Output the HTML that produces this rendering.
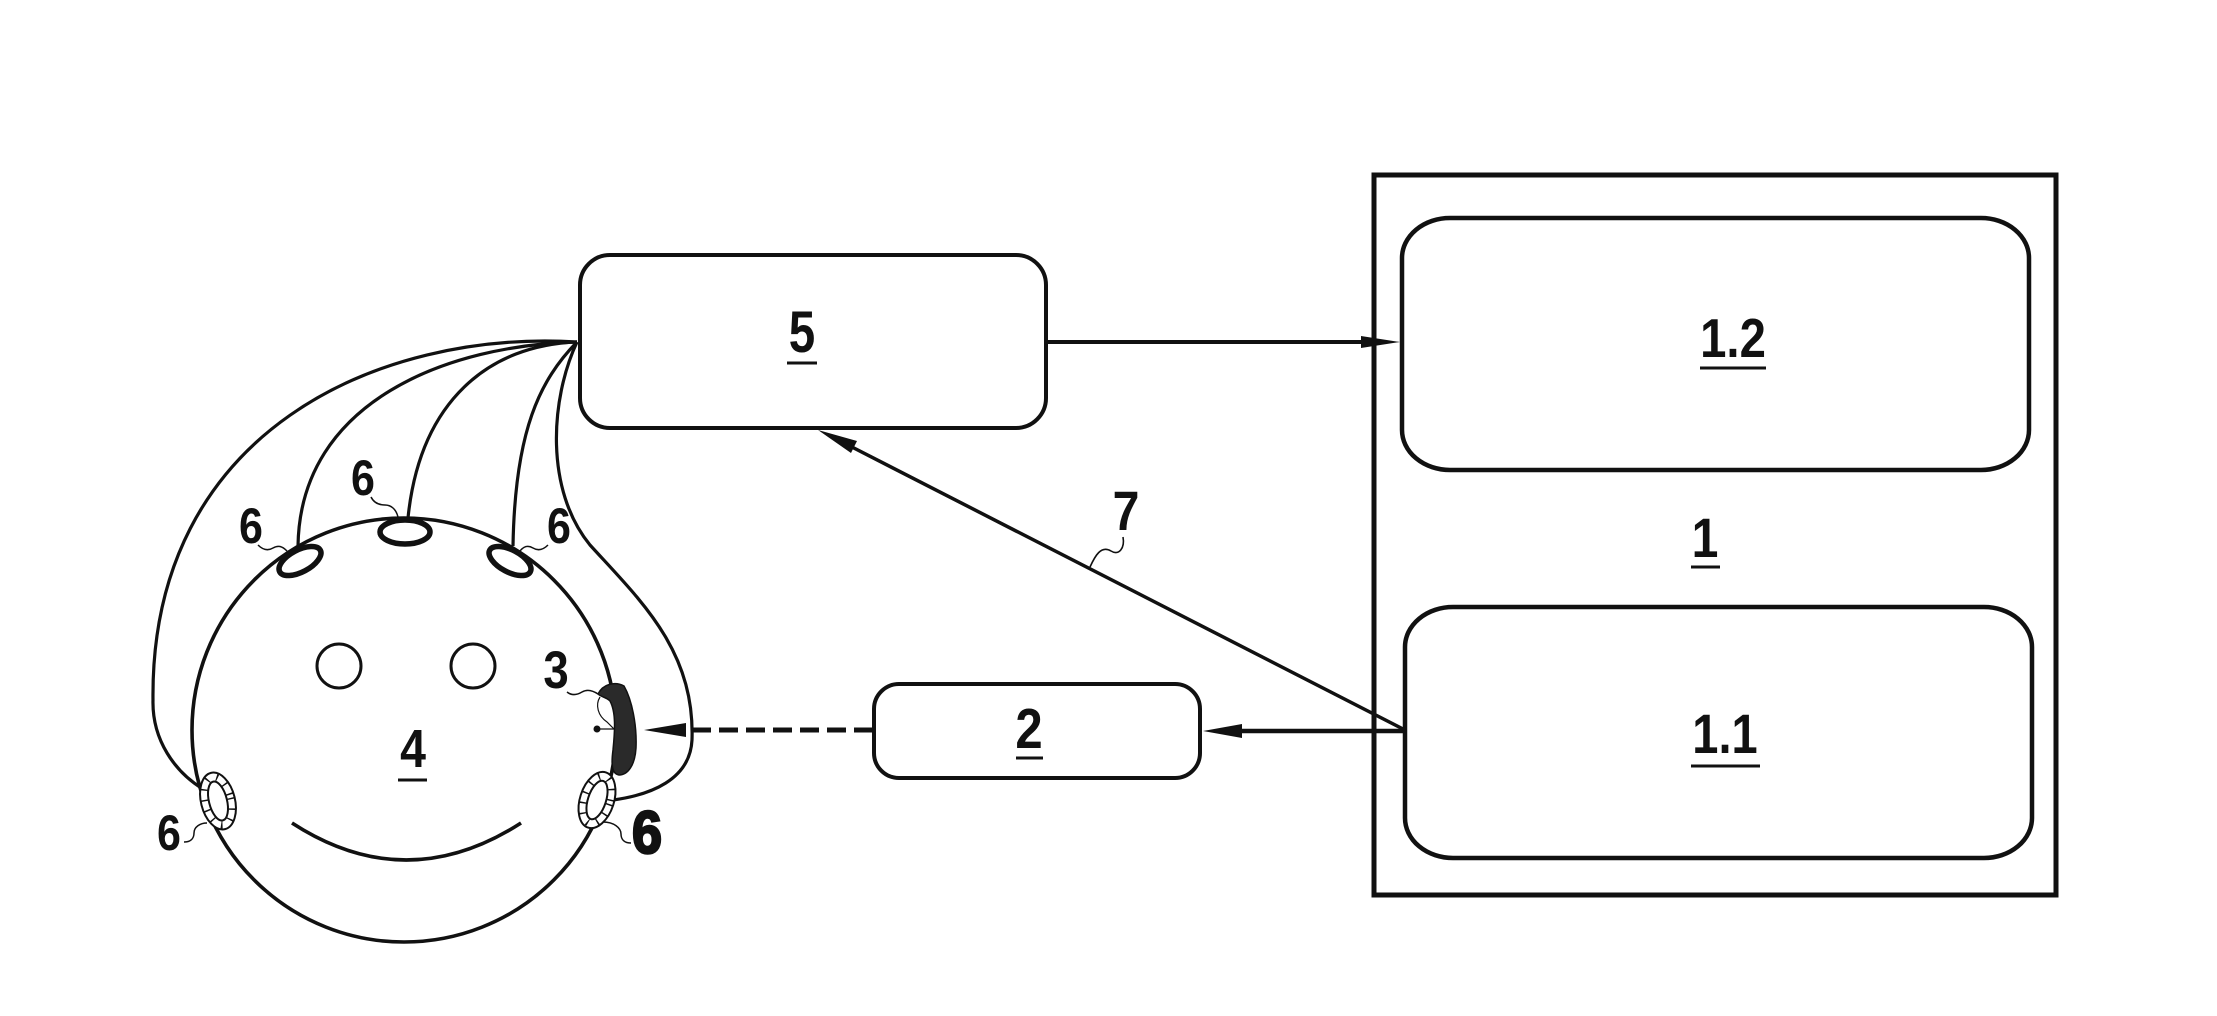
<!DOCTYPE html>
<html>
<head>
<meta charset="utf-8">
<style>
html,body{margin:0;padding:0;background:#fff;}
svg{display:block;}
text{font-family:"Liberation Sans",Arial,sans-serif;font-weight:bold;fill:#111;}
</style>
</head>
<body>
<svg width="2217" height="1016" viewBox="0 0 2217 1016" xmlns="http://www.w3.org/2000/svg">
<rect x="0" y="0" width="2217" height="1016" fill="#fff"/>

<!-- Box 1 -->
<rect x="1374" y="175" width="682" height="720" fill="none" stroke="#111" stroke-width="5"/>
<rect x="1402" y="218" width="627" height="252" rx="48" ry="40" fill="none" stroke="#111" stroke-width="4.5"/>
<rect x="1405" y="607" width="627" height="251" rx="48" ry="40" fill="none" stroke="#111" stroke-width="4.5"/>

<!-- Box 5 -->
<rect x="580" y="255" width="466" height="173" rx="30" ry="30" fill="none" stroke="#111" stroke-width="4"/>
<!-- Box 2 -->
<rect x="874" y="684" width="326" height="94" rx="25" ry="25" fill="none" stroke="#111" stroke-width="4"/>

<!-- Arrow 5 -> 1.2 -->
<line x1="1046" y1="342" x2="1365" y2="342" stroke="#111" stroke-width="4"/>
<polygon points="1400,342 1361,336 1361,348" fill="#111"/>

<!-- Arrow 1.1 -> 2 -->
<line x1="1405" y1="731" x2="1238" y2="731" stroke="#111" stroke-width="4.5"/>
<polygon points="1203,731 1242,724 1242,738" fill="#111"/>

<!-- Line 7 -->
<line x1="1405" y1="730" x2="848" y2="445" stroke="#111" stroke-width="3.5"/>
<polygon points="818,430 857,441 851,453" fill="#111"/>
<path d="M1123,537 C1125,548 1119,556 1111,551 C1101,545 1095,556 1090,567" fill="none" stroke="#111" stroke-width="1.6"/>

<!-- Dashed arrow 2 -> 3 -->
<line x1="873" y1="730" x2="684" y2="730" stroke="#111" stroke-width="5" stroke-dasharray="19 8"/>
<polygon points="644,730 686,723 686,737" fill="#111"/>

<!-- Wires -->
<g fill="none" stroke="#111" stroke-width="3.2">
<path d="M577,342 C380,330 150,430 153,700 C152,740 175,772 203,789"/>
<path d="M577,342 C450,345 300,400 298,546"/>
<path d="M577,342 C490,345 420,400 408,518"/>
<path d="M577,342 C540,380 515,430 513,546"/>
<path d="M577,342 C550,400 545,490 590,545 C640,600 695,650 692,740 C690,780 650,795 613,800"/>
</g>

<!-- Head -->
<circle cx="404" cy="730" r="212" fill="none" stroke="#111" stroke-width="3.6"/>
<circle cx="339" cy="666" r="22" fill="none" stroke="#111" stroke-width="3"/>
<circle cx="473" cy="666" r="22" fill="none" stroke="#111" stroke-width="3"/>
<path d="M292,823 Q406,897 521,823" fill="none" stroke="#111" stroke-width="3.6"/>

<!-- Top electrodes -->
<ellipse cx="300" cy="561" rx="23" ry="11" transform="rotate(-28 300 561)" fill="#fff" stroke="#111" stroke-width="5.5"/>
<ellipse cx="405" cy="532" rx="25" ry="12" fill="#fff" stroke="#111" stroke-width="5.5"/>
<ellipse cx="510" cy="561" rx="23" ry="11" transform="rotate(28 510 561)" fill="#fff" stroke="#111" stroke-width="5.5"/>

<!-- Ear electrodes -->
<g transform="rotate(-14 218 801)">
<ellipse cx="218" cy="801" rx="17" ry="29" fill="#fff" stroke="#111" stroke-width="2"/>
<ellipse cx="218" cy="801" rx="13" ry="24.5" fill="none" stroke="#111" stroke-width="7" stroke-dasharray="1.5 9"/>
<ellipse cx="218" cy="801" rx="9" ry="20" fill="none" stroke="#111" stroke-width="2"/>
</g>
<g transform="rotate(18 597 800)">
<ellipse cx="597" cy="800" rx="17" ry="29" fill="#fff" stroke="#111" stroke-width="2"/>
<ellipse cx="597" cy="800" rx="13" ry="24.5" fill="none" stroke="#111" stroke-width="7" stroke-dasharray="1.5 9"/>
<ellipse cx="597" cy="800" rx="9" ry="20" fill="none" stroke="#111" stroke-width="2"/>
</g>

<!-- Device 3 -->
<path d="M598,694 C603,684 615,681 624,686 C632,700 637,725 636,748 C635,765 628,775 619,775 C612,774 611,765 613,750 C615,730 616,712 610,701 C606,697 601,697 598,694 Z" fill="#2a2a2a" stroke="#111" stroke-width="1.5"/>
<circle cx="597" cy="729" r="3.5" fill="#111"/>
<line x1="597" y1="729" x2="614" y2="729" stroke="#111" stroke-width="1.2"/>
<path d="M567,692 C572,696 577,695 582,692 C587,689 592,690 598,694" fill="none" stroke="#111" stroke-width="1.5"/>
<path d="M600,697 C595,705 598,716 607,722 L614,729" fill="none" stroke="#111" stroke-width="1.2"/>

<!-- Leaders for 6 -->
<g fill="none" stroke="#111" stroke-width="1.5">
<path d="M258,545 C263,550 268,551 273,548 C278,545 282,546 287,551"/>
<path d="M371,497 C374,503 379,505 385,505 C391,505 396,509 398,517"/>
<path d="M548,545 C543,550 538,551 533,548 C528,545 524,546 520,551"/>
<path d="M184,842 C190,842 194,839 194,833 C194,827 200,823 207,823"/>
<path d="M631,843 C625,843 621,840 621,834 C621,828 614,822 603,822"/>
</g>

<!-- Labels -->
<g text-anchor="middle">
<text transform="translate(802,352) scale(0.82,1)" font-size="58">5</text>
<text transform="translate(1733,357) scale(0.86,1)" font-size="55">1.2</text>
<text transform="translate(1705,557) scale(0.86,1)" font-size="56">1</text>
<text transform="translate(1725,753) scale(0.84,1)" font-size="56">1.1</text>
<text transform="translate(1029,748) scale(0.86,1)" font-size="57">2</text>
<text transform="translate(413,767) scale(0.86,1)" font-size="54">4</text>
<text transform="translate(1126,530) scale(0.86,1)" font-size="56">7</text>
<text transform="translate(556,688) scale(0.86,1)" font-size="53">3</text>
<text transform="translate(251,543) scale(0.86,1)" font-size="50">6</text>
<text transform="translate(363,495) scale(0.86,1)" font-size="50">6</text>
<text transform="translate(559,543) scale(0.86,1)" font-size="50">6</text>
<text transform="translate(169,850) scale(0.86,1)" font-size="50">6</text>
<text transform="translate(647,853) scale(0.9,1)" font-size="60" stroke="#111" stroke-width="2.5">6</text>
</g>

<!-- Underlines -->
<g stroke="#111" stroke-width="3">
<line x1="787" y1="363" x2="817" y2="363"/>
<line x1="1700" y1="368" x2="1766" y2="368"/>
<line x1="1691" y1="567" x2="1720" y2="567"/>
<line x1="1691" y1="766" x2="1760" y2="766"/>
<line x1="1016" y1="758" x2="1043" y2="758"/>
<line x1="398" y1="780" x2="427" y2="780"/>
</g>
</svg>
</body>
</html>
